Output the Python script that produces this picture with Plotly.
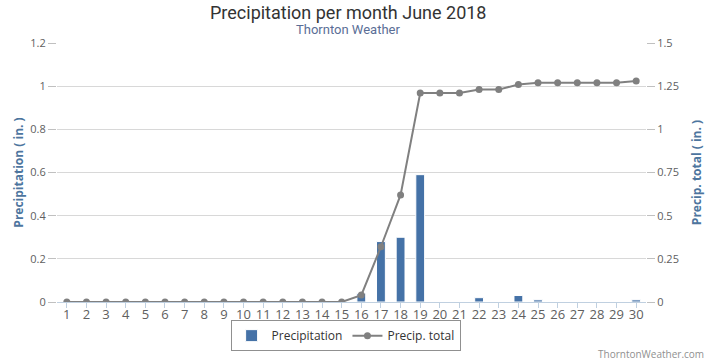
import plotly.graph_objects as go

days = [str(d) for d in range(1, 31)]
precip = [0, 0, 0, 0, 0, 0, 0, 0, 0, 0, 0, 0, 0, 0, 0,
          0.04, 0.28, 0.30, 0.59, 0, 0, 0.02, 0, 0.03, 0.01, 0, 0, 0, 0, 0.01]
total = [0, 0, 0, 0, 0, 0, 0, 0, 0, 0, 0, 0, 0, 0, 0,
         0.04, 0.32, 0.62, 1.21, 1.21, 1.21, 1.23, 1.23, 1.26, 1.27, 1.27, 1.27, 1.27, 1.27, 1.28]
left_ticks = [0, 0.2, 0.4, 0.6, 0.8, 1, 1.2]
right_ticks = [0, 0.25, 0.5, 0.75, 1, 1.25, 1.5]

font = "Open Sans, DejaVu Sans, sans-serif"
title_font = "Roboto, Open Sans, sans-serif"

fig = go.Figure()
fig.add_trace(go.Bar(
    x=days, y=precip, name="Precipitation",
    marker=dict(color="#4572A7", line=dict(color="white", width=1)),
    yaxis="y",
))
fig.add_trace(go.Scatter(
    x=days, y=total, name="Precip. total", mode="lines+markers",
    line=dict(color="#808080", width=2),
    marker=dict(color="#808080", size=7),
    yaxis="y2",
))

fig.update_layout(
    width=716, height=362,
    margin=dict(l=57, r=70, t=43, b=60, autoexpand=False),
    paper_bgcolor="white", plot_bgcolor="white",
    font=dict(family=font, color="#606060", size=12),
    bargap=0.55,
    showlegend=True,
    legend=dict(
        orientation="h", x=0.49, xanchor="center", y=-0.07, yanchor="top",
        bordercolor="#909090", borderwidth=1, font=dict(size=12, color="#333333"),
        itemwidth=30,
    ),
    xaxis=dict(
        type="category", range=[-0.5, 29.5], showgrid=False, showline=True, linecolor="#C0D0E0",
        ticks="outside", tickcolor="#C0D0E0", ticklen=5, automargin=False,
        ticklabelstandoff=-5,
        tickfont=dict(size=13, color="#606060"),
    ),
    yaxis=dict(
        range=[0, 1.2], tickvals=left_ticks, ticktext=[f"{v:g}" for v in left_ticks],
        showgrid=True, gridcolor="#D8D8D8", zeroline=False, automargin=False,
        ticks="outside", tickcolor="#C0C0C0", ticklen=8,
        title=dict(text="<b>Precipitation ( in. )</b>", font=dict(size=12, color="#4d759e", family=font), standoff=4),
        tickfont=dict(size=11, color="#606060"),
    ),
    yaxis2=dict(
        range=[0, 1.5], tickvals=right_ticks, ticktext=[f"{v:g}" for v in right_ticks],
        overlaying="y", side="right", showgrid=False, zeroline=False, automargin=False,
        ticks="outside", tickcolor="#C0C0C0", ticklen=8,
        title=dict(text="<b>Precip. total ( in. )</b>", font=dict(size=12, color="#4d759e", family=font), standoff=14),
        tickfont=dict(size=11, color="#606060"),
    ),
    annotations=[
        dict(text="Precipitation per month June 2018", xref="paper", yref="paper",
             x=0.5, y=1.116, xanchor="center", yanchor="middle", showarrow=False, xshift=-4,
             font=dict(size=18, color="#333333", family=title_font)),
        dict(text="Thornton Weather", xref="paper", yref="paper",
             x=0.5, y=1.054, xanchor="center", yanchor="middle", showarrow=False, xshift=-4,
             font=dict(size=13, color="#5a6e96", family=title_font)),
        dict(text="ThorntonWeather.com", xref="paper", yref="paper",
             x=1.0, y=-0.2, xanchor="right", yanchor="middle", xshift=60,
             showarrow=False, font=dict(size=10, color="#909090")),
    ],
)

fig.write_html("out.html", config={"displayModeBar": False},
               post_script="document.body.style.margin='0';")
